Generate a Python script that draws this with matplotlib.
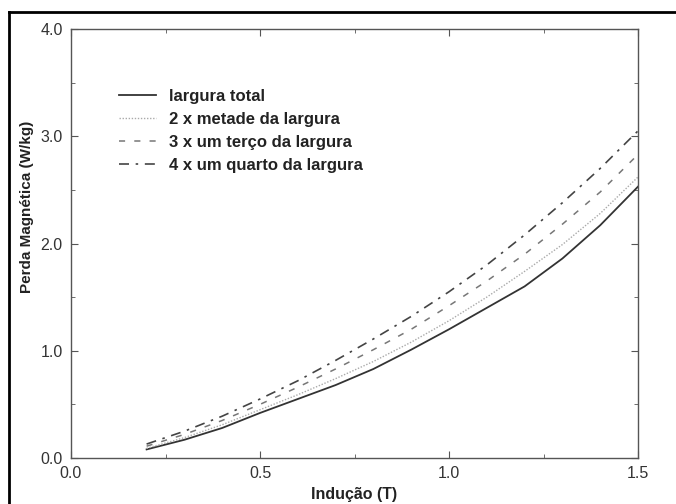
import matplotlib
matplotlib.use("Agg")
import matplotlib.pyplot as plt
from matplotlib.lines import Line2D
from matplotlib.ticker import MultipleLocator, FormatStrFormatter

plt.rcParams['font.family'] = ['Liberation Sans', 'DejaVu Sans']

induction = [0.2, 0.3, 0.4, 0.5, 0.6, 0.7, 0.8, 0.9, 1.0, 1.1, 1.2, 1.3, 1.4, 1.5]
largura_total = [0.08, 0.17, 0.28, 0.42, 0.55, 0.68, 0.83, 1.01, 1.20, 1.40, 1.60, 1.86, 2.17, 2.53]
metade = [0.09, 0.19, 0.31, 0.45, 0.59, 0.74, 0.90, 1.08, 1.28, 1.50, 1.74, 1.99, 2.28, 2.62]
terco = [0.11, 0.22, 0.35, 0.50, 0.66, 0.83, 1.01, 1.20, 1.42, 1.65, 1.90, 2.18, 2.48, 2.83]
quarto = [0.13, 0.25, 0.39, 0.55, 0.72, 0.91, 1.11, 1.32, 1.55, 1.80, 2.08, 2.38, 2.70, 3.05]

labels = ["largura total", "2 x metade da largura",
          "3 x um terço da largura", "4 x um quarto da largura"]

W, H = 676, 504
fig = plt.figure(figsize=(W / 100, H / 100), dpi=100)
ax = fig.add_axes([71 / W, 1 - 458 / H, (638 - 71) / W, (458 - 29) / H])

ax.plot(induction, largura_total, color='#333333', lw=1.3, ls='-', label=labels[0])
ax.plot(induction, metade, color='#aaaaaa', lw=1.0, ls=(0, (1, 1.2)), label=labels[1])
ax.plot(induction, terco, color='#777777', lw=1.1, ls=(0, (4, 6)), label=labels[2])
ax.plot(induction, quarto, color='#444444', lw=1.2, ls=(0, (6, 4, 1.5, 4)), label=labels[3])

ax.set_xlim(0, 1.5)
ax.set_ylim(0, 4.0)
ax.xaxis.set_major_locator(MultipleLocator(0.5))
ax.xaxis.set_minor_locator(MultipleLocator(0.25))
ax.yaxis.set_major_locator(MultipleLocator(1.0))
ax.yaxis.set_minor_locator(MultipleLocator(0.5))
ax.xaxis.set_major_formatter(FormatStrFormatter('%.1f'))
ax.yaxis.set_major_formatter(FormatStrFormatter('%.1f'))
ax.tick_params(which='both', direction='in', top=True, right=True, color='#555555')
ax.tick_params(which='major', length=5, labelsize=11.5, pad=6)
ax.tick_params(which='minor', length=3)
for lab in ax.get_xticklabels() + ax.get_yticklabels():
    lab.set_color('#333333')
for s in ax.spines.values():
    s.set_color('#555555')
    s.set_linewidth(1.0)

ax.set_xlabel("Indução (T)", fontsize=11.5, fontweight='bold', color='#222222', labelpad=4)
ax.set_ylabel("Perda Magnética (W/kg)", fontsize=11, fontweight='bold', color='#222222')
ax.yaxis.set_label_coords(-0.066, 0.585)

leg = ax.legend(loc='upper left', bbox_to_anchor=(0.059, 0.895), frameon=False,
                handlelength=2.2, handletextpad=0.75, labelspacing=0.47,
                prop={'size': 12, 'weight': 'bold'})
for t in leg.get_texts():
    t.set_color('#222222')

# outer border (left and top only, cropped)
fig.add_artist(Line2D([9 / W, 9 / W], [0, 1 - 12 / H], transform=fig.transFigure, color='black', lw=2))
fig.add_artist(Line2D([9 / W, 1], [1 - 12 / H, 1 - 12 / H], transform=fig.transFigure, color='black', lw=2))

fig.savefig("out.png", dpi=100)
